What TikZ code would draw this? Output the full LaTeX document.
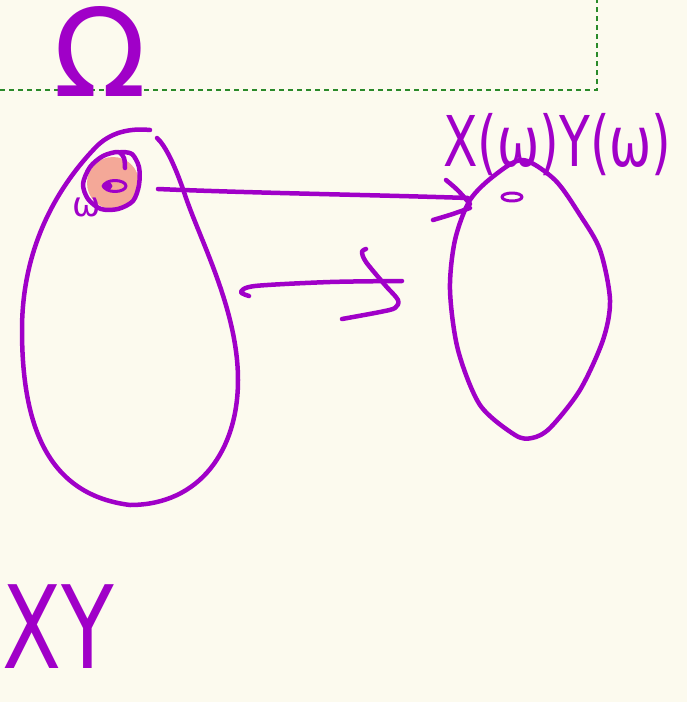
\documentclass[tikz,border=0pt]{standalone}
\usepackage{fontspec}
\newfontfamily\labfont{DejaVu Sans}
\definecolor{bgc}{HTML}{FCFAEE}
\definecolor{ink}{HTML}{A000C8}
\definecolor{blob}{HTML}{F4A898}
\definecolor{frame}{HTML}{2A8A2A}
\tikzset{
  stroke/.style={draw=ink, line width=4.5pt, line cap=round, line join=round},
  lab/.style={text=ink, inner sep=0pt, anchor=base},
  boxline/.style={draw=frame, line width=1.5pt, dash pattern=on 5pt off 4pt}
}
\begin{document}
\begin{tikzpicture}[x=1pt,y=-1pt]
\useasboundingbox (0,0) rectangle (687,702);
\fill[bgc] (0,0) rectangle (687,702);
% dashed frame
\draw[boxline] (0,90) -- (597,90) -- (597,0);
% Omega label
\node[lab, font=\labfont\fontsize{122}{122}\selectfont] (omega) at (100,96) {Ω};
% left egg (sample space)
\draw[stroke] (150,130) .. controls (130,128) and (110,132) .. (95,148)
  .. controls (55,190) and (22,250) .. (22,330)
  .. controls (22,430) and (50,495) .. (130,505)
  .. controls (200,505) and (238,450) .. (238,380)
  .. controls (238,310) and (200,240) .. (185,195)
  .. controls (175,165) and (165,145) .. (157,138);
% highlighted point
\fill[blob] (113,183) circle (26);
\draw[stroke] plot[smooth] coordinates {(121,152)(132,154)(139,167)(139,185)(133,201)(118,209)(101,209)(88,199)(83,184)(90,167)(103,156)(118,152)(124,158)(125,168)};
\draw[stroke, line width=3pt] (115,186) ellipse (11 and 5.5);
\fill[ink] (107,186) ellipse (5.5 and 4);
\node[lab, font=\labfont\fontsize{34}{34}\selectfont] (w) at (87,216) {ω};
% top arrow
\draw[stroke] (158,189) .. controls (250,193) and (380,195) .. (468,198);
\draw[stroke] (446,180) .. controls (458,190) .. (470,204);
\draw[stroke] (433,220) .. controls (450,215) .. (470,208);
% middle arrow
\draw[stroke] plot[smooth] coordinates {(249,296)(241,292)(255,286)(330,282)(402,281)};
\draw[stroke] plot[smooth] coordinates {(366,249)(362,252)(366,262)(385,285)(398,300)(395,308)(380,312)(342,319)};
% right egg
\draw[stroke] plot[smooth cycle] coordinates {(523,160)(495,175)(470,200)(455,240)(450,290)(458,350)(480,405)(515,435)(532,438)(550,428)(580,390)(603,340)(610,300)(600,250)(580,215)(555,180)};
\draw[stroke, line width=3pt] (512,197) ellipse (10 and 4);
% labels
\node[lab, anchor=base west, font=\labfont\fontsize{70}{70}\selectfont] (xy1) at (443,166) {\scalebox{0.72}[1]{X(ω)Y(ω)}};
\node[lab, anchor=base west, font=\labfont\fontsize{115}{115}\selectfont] (xy2) at (2,668) {\scalebox{0.75}[1]{XY}};
\end{tikzpicture}
\end{document}
